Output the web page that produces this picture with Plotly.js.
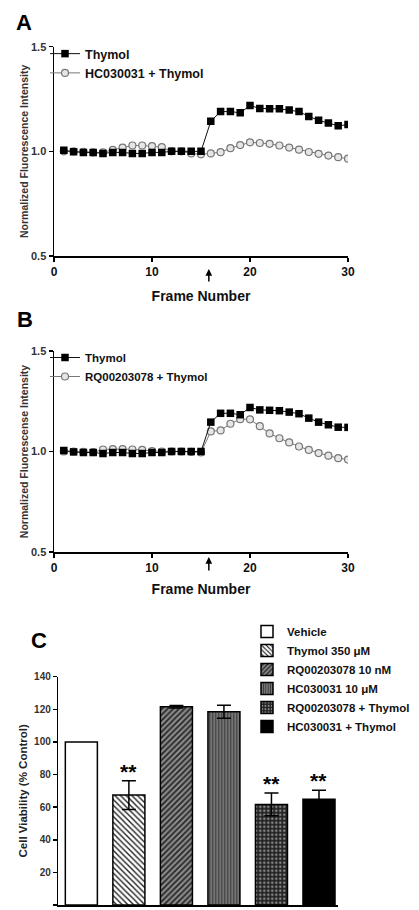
<!DOCTYPE html>
<html>
<head>
<meta charset="utf-8">
<script src="https://cdn.plot.ly/plotly-3.0.1.min.js"></script>
<style>html,body{margin:0;padding:0;background:#fff;}#chart{width:419px;height:910px;}</style>
</head>
<body>
<div id="chart"></div>
<script>
// ---- Data ----
var frames = [1,2,3,4,5,6,7,8,9,10,11,12,13,14,15,16,17,18,19,20,21,22,23,24,25,26,27,28,29,30];
var thymolA = [1.005,0.998,0.995,0.995,0.99,0.995,0.995,0.99,0.99,0.995,0.995,1.0,1.0,1.0,1.0,1.144,1.19,1.19,1.184,1.219,1.205,1.204,1.203,1.197,1.19,1.167,1.148,1.135,1.122,1.128];
var hcThymolA = [1.0,1.0,0.998,0.995,0.995,1.007,1.018,1.028,1.028,1.025,1.02,1.0,1.0,0.99,0.986,0.99,0.996,1.015,1.03,1.043,1.04,1.036,1.028,1.018,1.008,0.997,0.988,0.98,0.972,0.965];
var thymolB = [1.005,0.998,0.995,0.995,0.99,0.995,0.995,0.99,0.99,0.995,0.995,1.0,1.0,1.0,1.0,1.146,1.19,1.19,1.183,1.219,1.207,1.205,1.203,1.196,1.188,1.166,1.146,1.133,1.121,1.12];
var rqThymolB = [1.0,1.0,0.998,0.997,1.01,1.012,1.012,1.01,1.008,1.002,1.0,1.0,1.0,0.998,0.995,1.1,1.105,1.138,1.161,1.16,1.126,1.09,1.066,1.045,1.025,1.008,0.992,0.979,0.967,0.96];
var arrowFrame = 15.8;

var groups = ["Vehicle","Thymol 350 \u03bcM","RQ00203078 10 nM","HC030031 10 \u03bcM","RQ00203078 + Thymol","HC030031 + Thymol"];
var viability = [100, 67.4, 121.6, 118.5, 61.7, 64.8];
var viabilitySem = [0, 8.8, 0.8, 4.0, 7.0, 5.5];
var significant = [false, true, false, false, true, true];

var yTicksAB = [0.5, 1.0, 1.5];
var xTicksAB = [0, 10, 20, 30];
var yTicksC = [0,20,40,60,80,100,120,140];

// ---- Styles ----
var FF = "Liberation Sans, Arial, sans-serif";
function bf(size, color){ return {family: FF, size: size, color: color || "#111", weight: "bold"}; }
var W = 419, H = 910;
function px(x){ return x / W; }
function py(y){ return 1 - y / H; }

var patterns = [
  {fill: "#ffffff", pattern: {shape: ""}},
  {fill: "#ffffff", pattern: {shape: "\\", fgcolor: "#222", bgcolor: "#ffffff", size: 4, solidity: 0.35, fillmode: "replace"}},
  {fill: "#888888", pattern: {shape: "/", fgcolor: "#222", bgcolor: "#8a8a8a", size: 4, solidity: 0.4, fillmode: "replace"}},
  {fill: "#777777", pattern: {shape: "|", fgcolor: "#3a3a3a", bgcolor: "#7a7a7a", size: 3, solidity: 0.4, fillmode: "replace"}},
  {fill: "#333333", pattern: {shape: ".", fgcolor: "#8a8a8a", bgcolor: "#222", size: 4, solidity: 0.3, fillmode: "replace"}},
  {fill: "#000000", pattern: {shape: ""}}
];

var traces = [];
// Panel A
traces.push({x: frames, y: hcThymolA, xaxis: "x", yaxis: "y", type: "scatter", mode: "lines+markers",
  name: "HC030031 + Thymol", legend: "legend", legendrank: 2,
  line: {color: "#777", width: 1}, marker: {symbol: "circle", size: 7, color: "#e6e6e6", line: {color: "#777", width: 1.2}}});
traces.push({x: frames, y: thymolA, xaxis: "x", yaxis: "y", type: "scatter", mode: "lines+markers",
  name: "Thymol", legend: "legend", legendrank: 1,
  line: {color: "#111", width: 1}, marker: {symbol: "square", size: 7.5, color: "#000"}});
// Panel B
traces.push({x: frames, y: rqThymolB, xaxis: "x2", yaxis: "y2", type: "scatter", mode: "lines+markers",
  name: "RQ00203078 + Thymol", legend: "legend2", legendrank: 2,
  line: {color: "#777", width: 1}, marker: {symbol: "circle", size: 7, color: "#e6e6e6", line: {color: "#777", width: 1.2}}});
traces.push({x: frames, y: thymolB, xaxis: "x2", yaxis: "y2", type: "scatter", mode: "lines+markers",
  name: "Thymol", legend: "legend2", legendrank: 1,
  line: {color: "#111", width: 1}, marker: {symbol: "square", size: 7.5, color: "#000"}});
// Panel C
for (var i = 0; i < groups.length; i++) {
  var m = {color: patterns[i].fill, line: {color: "#000", width: 1.5}};
  if (patterns[i].pattern.shape) m.pattern = patterns[i].pattern;
  traces.push({x: [groups[i]], y: [viability[i]], xaxis: "x3", yaxis: "y3", type: "bar",
    name: groups[i], legend: "legend3", marker: m,
    error_y: {type: "data", array: [viabilitySem[i]], visible: viabilitySem[i] > 0, color: "#000", thickness: 1.5, width: 7}});
}

var annotations = [
  {text: "A", xref: "paper", yref: "paper", x: px(14), y: py(8), xanchor: "left", yanchor: "top", showarrow: false, font: bf(22, "#000")},
  {text: "B", xref: "paper", yref: "paper", x: px(15), y: py(305), xanchor: "left", yanchor: "top", showarrow: false, font: bf(22, "#000")},
  {text: "C", xref: "paper", yref: "paper", x: px(29), y: py(626), xanchor: "left", yanchor: "top", showarrow: false, font: bf(22, "#000")},
  {text: "", xref: "x", yref: "paper", x: arrowFrame, y: py(269), ax: 0, ay: 14, showarrow: true, arrowhead: 2, arrowsize: 0.9, arrowwidth: 1.5, arrowcolor: "#000"},
  {text: "", xref: "x2", yref: "paper", x: arrowFrame, y: py(557), ax: 0, ay: 15, showarrow: true, arrowhead: 2, arrowsize: 0.9, arrowwidth: 1.5, arrowcolor: "#000"}
];
for (var j = 0; j < groups.length; j++) {
  if (significant[j]) {
    annotations.push({text: "**", xref: "x3", yref: "y3", x: groups[j], y: viability[j] + viabilitySem[j],
      yanchor: "bottom", yshift: -4, showarrow: false, font: bf(21, "#000")});
  }
}

function lineAxis(extra){
  var a = {showline: true, linecolor: "#000", linewidth: 1.5, ticks: "outside", ticklen: 4, tickwidth: 1.5, tickcolor: "#000",
    showgrid: false, zeroline: false, fixedrange: true};
  for (var k in extra) a[k] = extra[k];
  return a;
}

var layout = {
  width: W, height: H,
  margin: {l: 0, r: 0, t: 0, b: 0},
  paper_bgcolor: "#fff", plot_bgcolor: "rgba(0,0,0,0)",
  font: {family: FF},
  barmode: "overlay", bargap: 0.326,
  xaxis: lineAxis({domain: [px(54), px(348)], range: [0, 30], tickvals: xTicksAB, anchor: "y",
    tickfont: bf(12), title: {text: "Frame Number", font: bf(14), standoff: 13}}),
  yaxis: lineAxis({domain: [py(256), py(46.7)], range: [0.5, 1.5], tickvals: yTicksAB, tickformat: ".1f", anchor: "x",
    tickfont: bf(11, "#333"), title: {text: "Normalized Fluorescence Intensity", font: bf(10.5, "#333"), standoff: 0}}),
  xaxis2: lineAxis({domain: [px(54), px(348)], range: [0, 30], tickvals: xTicksAB, anchor: "y2",
    tickfont: bf(12), title: {text: "Frame Number", font: bf(14), standoff: 10}}),
  yaxis2: lineAxis({domain: [py(552), py(351)], range: [0.5, 1.5], tickvals: yTicksAB, tickformat: ".1f", anchor: "x2",
    tickfont: bf(11, "#333"), title: {text: "Normalized Fluorescense Intensity", font: bf(10.5, "#333"), standoff: 0}}),
  xaxis3: {domain: [px(58.3), px(338)], range: [-0.485, 5.4], anchor: "y3", type: "category", categoryarray: groups,
    showline: true, linecolor: "#000", linewidth: 1.5, ticks: "", showticklabels: false, showgrid: false, zeroline: false, fixedrange: true},
  yaxis3: lineAxis({domain: [py(905), py(676.7)], range: [0, 140], tickvals: yTicksC, anchor: "x3",
    tickfont: bf(10, "#333"), title: {text: "Cell Viability (% Control)", font: bf(11.5, "#222"), standoff: 4}}),
  legend: {x: px(45), y: py(39), xanchor: "left", yanchor: "top", bgcolor: "rgba(0,0,0,0)", font: bf(12.5, "#111"), traceorder: "normal"},
  legend2: {x: px(45), y: py(343), xanchor: "left", yanchor: "top", bgcolor: "rgba(0,0,0,0)", font: bf(11.5, "#111"), traceorder: "normal"},
  legend3: {x: px(247), y: py(617), xanchor: "left", yanchor: "top", bgcolor: "rgba(0,0,0,0)", font: bf(11.5, "#111"), traceorder: "normal"},
  annotations: annotations,
  showlegend: true
};

Plotly.newPlot("chart", traces, layout, {displayModeBar: false, staticPlot: true});
</script>
</body>
</html>
